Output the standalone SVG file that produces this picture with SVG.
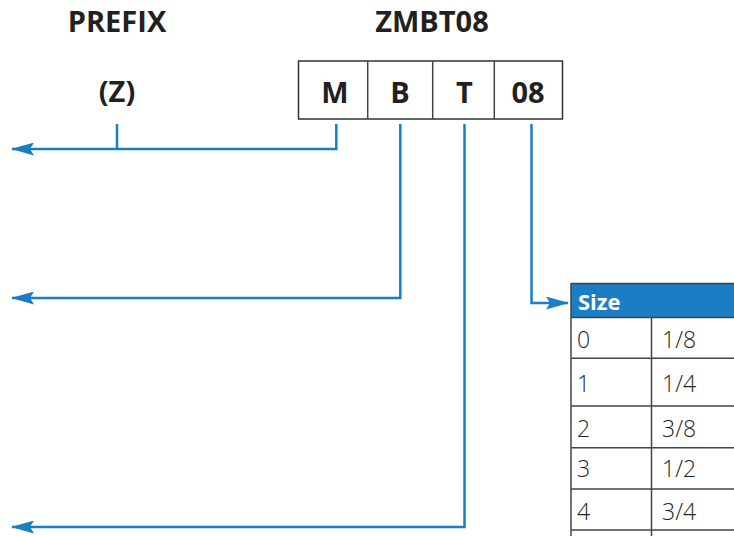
<svg xmlns="http://www.w3.org/2000/svg" width="734" height="536" viewBox="0 0 734 536">
<style>
.h{font-family:"Open Sans","Liberation Sans",sans-serif;font-weight:700;font-size:29px;fill:#231f20;text-anchor:middle}
.c{font-family:"Open Sans","Liberation Sans",sans-serif;font-weight:300;font-size:23px;fill:#231f20}
.w{font-family:"Open Sans","Liberation Sans",sans-serif;font-weight:700;font-size:22px;fill:#ffffff}
.ln{fill:none;stroke:#1b7dc3;stroke-width:2.5}
.bx{fill:#ffffff;stroke:#333333;stroke-width:1.5}
.tl{stroke:#444444;stroke-width:1.5}
</style>
<defs>
<marker id="ah" viewBox="0 0 23 13" refX="22" refY="6.5" markerWidth="23" markerHeight="13" markerUnits="userSpaceOnUse" orient="auto">
<path d="M0,0 L23,6.5 L0,13 L4,6.5 Z" fill="#1b7dc3"/>
</marker>
</defs>
<g id="title-prefix"><text class="h" x="117" y="32">PREFIX</text></g>
<g id="title-code"><text class="h" x="432" y="32">ZMBT08</text></g>
<g id="prefix-z"><text class="h" x="117" y="102">(Z)</text></g>
<g id="code-box">
<rect class="bx" x="298.5" y="61" width="264" height="58"/>
<line class="tl" x1="367.7" y1="61" x2="367.7" y2="119"/>
<line class="tl" x1="432.7" y1="61" x2="432.7" y2="119"/>
<line class="tl" x1="494.3" y1="61" x2="494.3" y2="119"/>
<text class="h" x="335" y="103">M</text>
<text class="h" x="400" y="103">B</text>
<text class="h" x="464.5" y="103">T</text>
<text class="h" x="528" y="103">08</text>
</g>
<g id="connectors">
<line class="ln" x1="117" y1="124" x2="117" y2="149"/>
<polyline class="ln" points="336.3,124 336.3,149 12,149" marker-end="url(#ah)"/>
<polyline class="ln" points="400.3,124 400.3,298 12,298" marker-end="url(#ah)"/>
<polyline class="ln" points="464.5,124 464.5,527 12,527" marker-end="url(#ah)"/>
<polyline class="ln" points="531.5,124 531.5,303 568,303" marker-end="url(#ah)"/>
</g>
<g id="size-table">
<rect x="571" y="283.5" width="170" height="34" fill="#1b7dc3"/>
<line class="tl" x1="571" y1="283.5" x2="734" y2="283.5"/>
<text class="w" x="578" y="309.5">Size</text>
<line class="tl" x1="571" y1="283" x2="571" y2="536"/>
<line class="tl" x1="651.5" y1="317.5" x2="651.5" y2="536"/>
<line class="tl" x1="571" y1="317.5" x2="734" y2="317.5"/>
<line class="tl" x1="571" y1="358.3" x2="734" y2="358.3"/>
<line class="tl" x1="571" y1="406" x2="734" y2="406"/>
<line class="tl" x1="571" y1="447.7" x2="734" y2="447.7"/>
<line class="tl" x1="571" y1="489" x2="734" y2="489"/>
<line class="tl" x1="571" y1="530" x2="734" y2="530"/>
<text class="c" x="577" y="348">0</text><text class="c" x="662" y="348">1/8</text>
<text class="c" x="577" y="392">1</text><text class="c" x="662" y="392">1/4</text>
<text class="c" x="577" y="437">2</text><text class="c" x="662" y="437">3/8</text>
<text class="c" x="577" y="477">3</text><text class="c" x="662" y="477">1/2</text>
<text class="c" x="577" y="520">4</text><text class="c" x="662" y="520">3/4</text>
</g>
</svg>
